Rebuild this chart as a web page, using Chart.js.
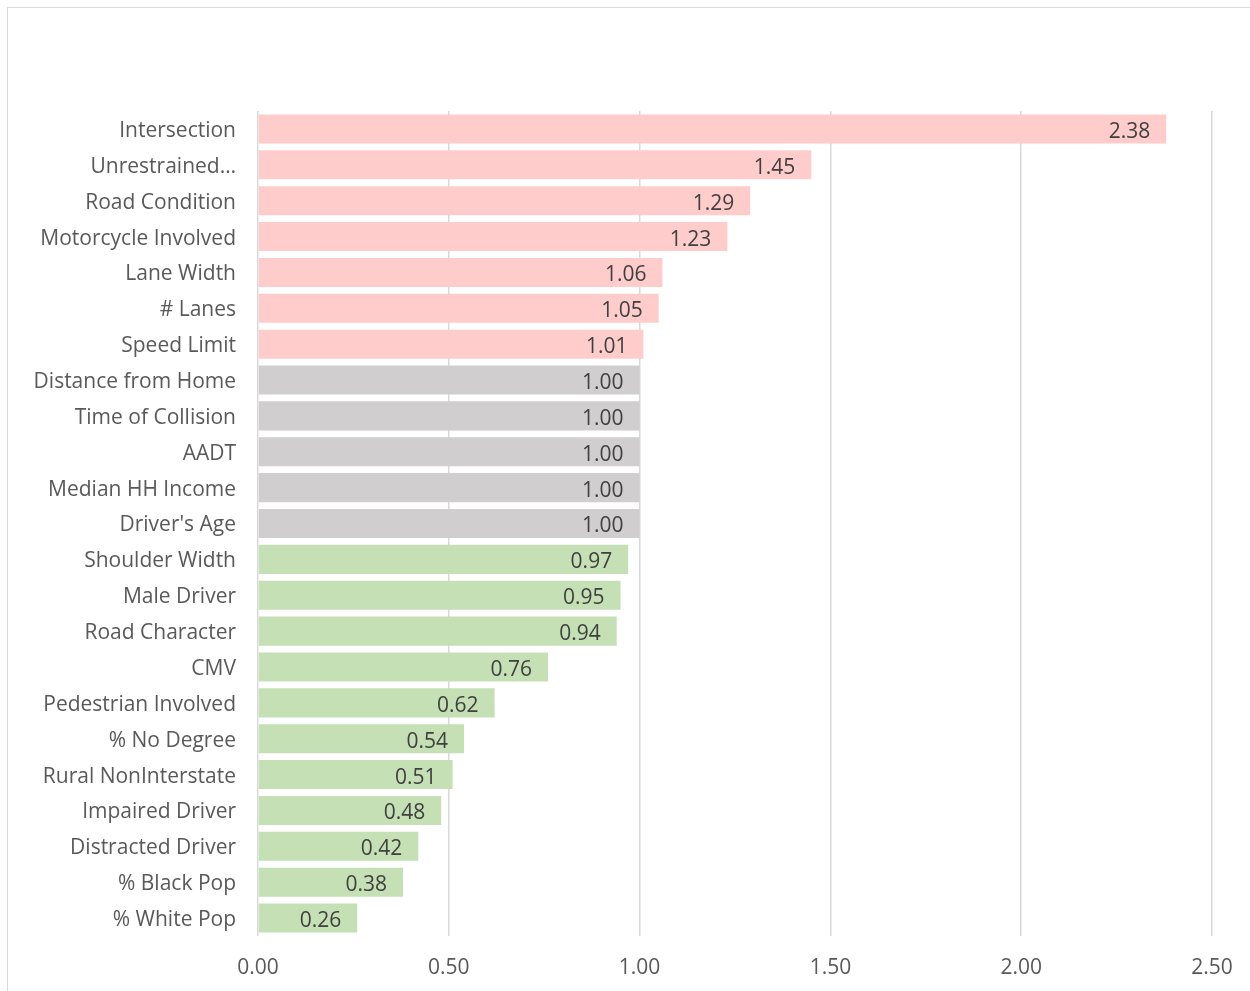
<!DOCTYPE html>
<html>
<head>
<meta charset="utf-8">
<script src="https://cdn.jsdelivr.net/npm/chart.js@4.4.0/dist/chart.umd.min.js"></script>
<style>
  html, body { margin: 0; padding: 0; background: #fff; overflow: hidden; }
  #frame {
    position: absolute; left: 7px; top: 7px; width: 1270px; height: 1010px;
    border: 1.5px solid #d9d9d9; box-sizing: border-box;
  }
  #wrap { position: absolute; left: 0; top: 0; width: 1250px; height: 991px; }
</style>
</head>
<body>
<div id="frame"></div>
<div id="wrap"><canvas id="chart"></canvas></div>
<script>
// ===== data =====
const categories = [
  "Intersection", "Unrestrained…", "Road Condition", "Motorcycle Involved",
  "Lane Width", "# Lanes", "Speed Limit", "Distance from Home",
  "Time of Collision", "AADT", "Median HH Income", "Driver's Age",
  "Shoulder Width", "Male Driver", "Road Character", "CMV",
  "Pedestrian Involved", "% No Degree", "Rural NonInterstate", "Impaired Driver",
  "Distracted Driver", "% Black Pop", "% White Pop"
];
const oddsRatios = [
  2.38, 1.45, 1.29, 1.23, 1.06, 1.05, 1.01, 1.00,
  1.00, 1.00, 1.00, 1.00,
  0.97, 0.95, 0.94, 0.76,
  0.62, 0.54, 0.51, 0.48,
  0.42, 0.38, 0.26
];
// effect group of each factor: up = increases, flat = no effect, down = decreases
const groups = [
  "up", "up", "up", "up", "up", "up", "up",
  "flat", "flat", "flat", "flat", "flat",
  "down", "down", "down", "down", "down", "down", "down", "down", "down", "down", "down"
];
const xTicks = [0, 0.5, 1, 1.5, 2, 2.5];

const groupColors = { up: "#FFCCCC", flat: "#D0CECE", down: "#C5E0B4" };
const FONT = "'Open Sans', sans-serif";

// value labels drawn inside the end of each bar
const barValueLabels = {
  id: "barValueLabels",
  afterDatasetsDraw(chart) {
    const ctx = chart.ctx;
    const meta = chart.getDatasetMeta(0);
    ctx.save();
    ctx.font = "21px " + FONT;
    ctx.fillStyle = "#404040";
    ctx.textAlign = "right";
    ctx.textBaseline = "middle";
    meta.data.forEach((bar, i) => {
      ctx.fillText(oddsRatios[i].toFixed(2), bar.x - 16, bar.y + 3);
    });
    ctx.restore();
  }
};

new Chart(document.getElementById("chart"), {
  type: "bar",
  data: {
    labels: categories,
    datasets: [{
      data: oddsRatios,
      backgroundColor: groups.map(g => groupColors[g]),
      borderWidth: 0,
      categoryPercentage: 0.81,
      barPercentage: 1.0
    }]
  },
  options: {
    indexAxis: "y",
    responsive: true,
    maintainAspectRatio: false,
    animation: false,
    layout: { padding: { top: 111, right: 38, left: 0, bottom: 0 } },
    plugins: { legend: { display: false }, tooltip: { enabled: false } },
    scales: {
      x: {
        min: 0, max: 2.5,
        afterBuildTicks: s => { s.ticks = xTicks.map(v => ({ value: v })); },
        afterFit: s => { s.height = 55; s.paddingLeft = 0; s.paddingRight = 0; },
        grid: { color: "#d9d9d9", lineWidth: 1.5, drawTicks: false },
        border: { display: false },
        ticks: {
          padding: 19,
          color: "#595959",
          font: { family: FONT, size: 21 },
          callback: v => Number(v).toFixed(2)
        }
      },
      y: {
        afterFit: s => { s.width = 258; },
        grid: { display: false, drawTicks: false },
        border: { display: false },
        ticks: {
          padding: 22,
          labelOffset: 2,
          color: "#595959",
          font: { family: FONT, size: 21 },
          autoSkip: false
        }
      }
    }
  },
  plugins: [barValueLabels]
});
</script>
</body>
</html>
